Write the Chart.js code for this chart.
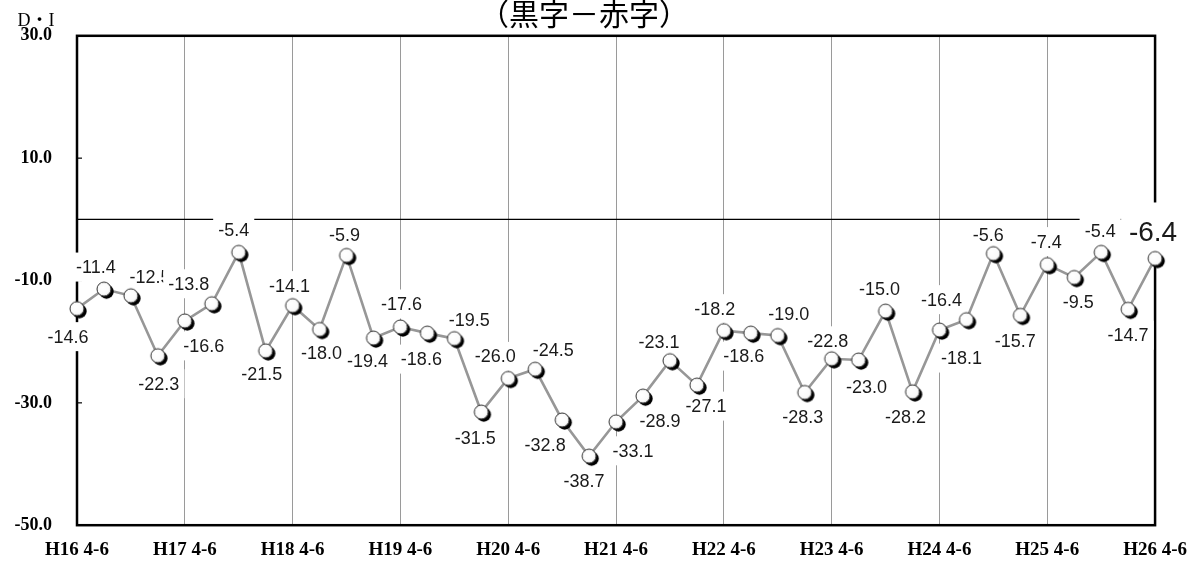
<!DOCTYPE html>
<html>
<head>
<meta charset="utf-8">
<script src="https://cdn.jsdelivr.net/npm/chart.js@4.4.1/dist/chart.umd.min.js"></script>
<style>
  html, body { margin: 0; padding: 0; background: #fff; }
  #wrap { width: 1200px; height: 561px; position: relative; }
</style>
</head>
<body>
<div id="wrap"><canvas id="c" width="1200" height="561"></canvas></div>
<script>
// Quarterly periods (Japanese era years, fiscal quarters)
const categories = [
  "H16 4-6", "H16 7-9", "H16 10-12", "H17 1-3",
  "H17 4-6", "H17 7-9", "H17 10-12", "H18 1-3",
  "H18 4-6", "H18 7-9", "H18 10-12", "H19 1-3",
  "H19 4-6", "H19 7-9", "H19 10-12", "H20 1-3",
  "H20 4-6", "H20 7-9", "H20 10-12", "H21 1-3",
  "H21 4-6", "H21 7-9", "H21 10-12", "H22 1-3",
  "H22 4-6", "H22 7-9", "H22 10-12", "H23 1-3",
  "H23 4-6", "H23 7-9", "H23 10-12", "H24 1-3",
  "H24 4-6", "H24 7-9", "H24 10-12", "H25 1-3",
  "H25 4-6", "H25 7-9", "H25 10-12", "H26 1-3",
  "H26 4-6"
];

// D.I. (黒字 − 赤字)
const diValues = [
  -14.6, -11.4, -12.5, -22.3, -16.6, -13.8, -5.4, -21.5, -14.1, -18.0,
  -5.9, -19.4, -17.6, -18.6, -19.5, -31.5, -26.0, -24.5, -32.8, -38.7,
  -33.1, -28.9, -23.1, -27.1, -18.2, -18.6, -19.0, -28.3, -22.8, -23.0,
  -15.0, -28.2, -18.1, -16.4, -5.6, -15.7, -7.4, -9.5, -5.4, -14.7,
  -6.4
];

// y-axis tick values
const yTickValues = [30, 10, -10, -30, -50];

const titleText = "（黒字－赤字）";
const unitText = "D・I";

// value label placement relative to each point [dx, dy] in px
const labelOffsets = [
  [-9, 28], [-8, -22], [19, -19], [1, 28], [19, 25], [-23, -20], [-5, -22], [-4, 23], [-3, -20], [2, 24],
  [-2, -20], [-6, 23], [1, -23], [-6, 26], [15, -19], [-6, 26], [-13, -22], [18, -19], [-17, 25], [-5, 25],
  [17, 29], [17, 25], [-11, -19], [9, 21], [-9, -22], [-7, 23], [11, -22], [-2, 25], [-4, -18], [8, 27],
  [-6, -22], [-7, 25], [22, 28], [-25, -20], [-5, -19], [-5, 26], [-1, -23], [4, 25], [-1, -21], [0, 26],
  [-2, -26]
];

// marker: white ball with dark shadow
function makeMarker() {
  const cv = document.createElement('canvas');
  cv.width = 24; cv.height = 24;
  const g = cv.getContext('2d');
  g.fillStyle = '#000';
  g.beginPath(); g.arc(14.5, 14.5, 7.2, 0, Math.PI * 2); g.fill();
  const grad = g.createRadialGradient(10, 10, 1, 12, 12, 7.5);
  grad.addColorStop(0, '#ffffff');
  grad.addColorStop(0.7, '#fbfbfb');
  grad.addColorStop(1, '#d4d4d4');
  g.fillStyle = grad;
  g.beginPath(); g.arc(12, 12, 7, 0, Math.PI * 2); g.fill();
  g.strokeStyle = '#333';
  g.lineWidth = 1;
  g.stroke();
  return cv;
}

const framePlugin = {
  id: 'frame',
  beforeDatasetsDraw(chart) {
    const ctx = chart.ctx;
    const a = chart.chartArea;
    const ys = chart.scales.y;
    const xs = chart.scales.x;
    ctx.save();
    // zero line
    const y0 = ys.getPixelForValue(0);
    ctx.strokeStyle = '#000';
    ctx.lineWidth = 1.2;
    ctx.beginPath(); ctx.moveTo(a.left, y0); ctx.lineTo(a.right, y0); ctx.stroke();
    // frame
    ctx.lineWidth = 2.5;
    ctx.strokeRect(a.left, a.top, a.right - a.left, a.bottom - a.top);
    // small inner ticks on the left axis
    ctx.lineWidth = 1.2;
    yTickValues.forEach(v => {
      const py = ys.getPixelForValue(v);
      ctx.beginPath(); ctx.moveTo(a.left, py); ctx.lineTo(a.left + 5, py); ctx.stroke();
    });
    // value labels with white boxes
    ctx.textAlign = 'center';
    ctx.textBaseline = 'middle';
    diValues.forEach((v, i) => {
      const last = i === diValues.length - 1;
      const size = last ? 28 : 18;
      ctx.font = size + 'px "Liberation Sans", Arial, sans-serif';
      const txt = v.toFixed(1);
      const w = ctx.measureText(txt).width;
      const px = xs.getPixelForValue(i) + labelOffsets[i][0];
      const py = ys.getPixelForValue(v) + labelOffsets[i][1];
      const padX = size * 0.28, halfH = last ? 30 : 14.5;
      ctx.fillStyle = '#fff';
      ctx.fillRect(px - w / 2 - padX, py - halfH, w + 2 * padX, halfH * 2);
      ctx.fillStyle = '#1a1a1a';
      ctx.fillText(txt, px, py + 1);
    });
    ctx.restore();
  },
  afterDraw(chart) {
    const ctx = chart.ctx;
    ctx.save();
    ctx.fillStyle = '#000';
    ctx.textAlign = 'center';
    ctx.textBaseline = 'middle';
    ctx.font = '30px "Noto Sans CJK JP", sans-serif';
    ctx.fillText(titleText, 584, 14);
    ctx.font = '18px "Liberation Serif", "Noto Sans CJK JP", serif';
    ctx.fillText(unitText, 36, 21);
    ctx.restore();
  }
};

new Chart(document.getElementById('c'), {
  type: 'line',
  data: {
    labels: categories,
    datasets: [{
      data: diValues,
      borderColor: '#979797',
      borderWidth: 2.6,
      pointStyle: makeMarker(),
      pointRadius: 7,
      pointHoverRadius: 7,
      tension: 0,
      clip: false
    }]
  },
  options: {
    responsive: false,
    animation: false,
    events: [],
    layout: { padding: { top: 35, right: 41, left: 0, bottom: 0 } },
    plugins: {
      legend: { display: false },
      tooltip: { enabled: false },
      title: { display: false }
    },
    scales: {
      x: {
        type: 'category',
        offset: false,
        afterFit(s) { s.height = 33; },
        border: { display: false },
        grid: {
          drawTicks: false,
          lineWidth: 1,
          color(ctx) {
            const i = ctx.index;
            return (i % 4 === 0 && i !== 0 && i !== categories.length - 1) ? '#9a9a9a' : 'rgba(0,0,0,0)';
          }
        },
        ticks: {
          autoSkip: false,
          maxRotation: 0,
          minRotation: 0,
          padding: 13,
          color: '#000',
          font: { family: '"Liberation Serif", serif', size: 19, weight: 'bold' },
          callback(val, i) { return i % 4 === 0 ? categories[i] : ''; }
        }
      },
      y: {
        min: -50,
        max: 30,
        afterFit(s) { s.width = 77; },
        afterBuildTicks(s) { s.ticks = yTickValues.map(v => ({ value: v })); },
        border: { display: false },
        grid: { display: false, drawTicks: false },
        ticks: {
          padding: 25,
          color: '#000',
          font: { family: '"Liberation Serif", serif', size: 18, weight: 'bold' },
          callback(v) { return Number(v).toFixed(1); }
        }
      }
    }
  },
  plugins: [framePlugin]
});
</script>
</body>
</html>
